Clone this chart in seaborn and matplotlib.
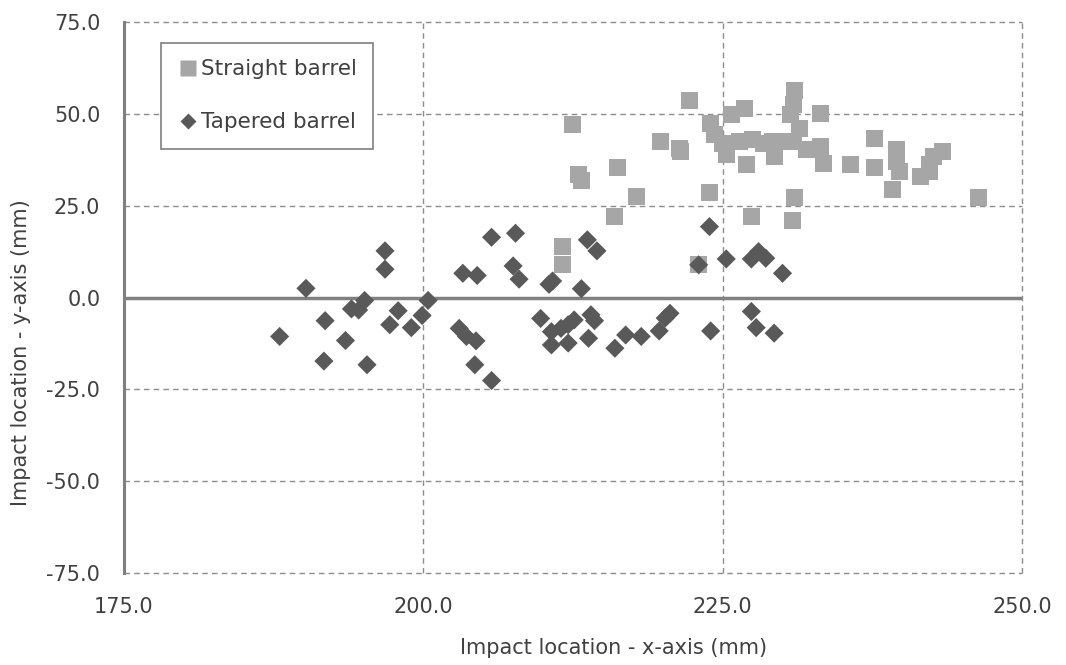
import matplotlib
matplotlib.use("Agg")
import matplotlib.pyplot as plt
import seaborn as sns
import pandas as pd
from matplotlib.lines import Line2D

# Straight barrel (light grey squares)
straight_x = [222.2, 212.5, 219.8, 221.4, 221.5, 216.2, 213.0, 213.2, 217.8, 223.9,
              216.0, 211.6, 211.6, 225.7, 226.8, 225.3, 227.0, 224.0, 224.3, 225.0,
              226.4, 227.5, 229.2, 229.3, 231.0, 230.9, 230.7, 231.4, 233.2, 228.4,
              229.5, 230.9, 232.0, 233.2, 233.4, 235.7, 237.7, 237.7, 239.5, 239.5,
              239.8, 239.2, 241.5, 242.3, 242.6, 243.4, 242.3, 246.4, 231.0, 230.8,
              223.0, 227.4]
straight_y = [53.6, 47.0, 42.5, 40.7, 39.8, 35.5, 33.4, 31.8, 27.5, 28.6,
              22.1, 13.9, 9.0, 49.8, 51.4, 38.9, 36.2, 47.5, 44.3, 42.0,
              42.5, 43.0, 42.5, 38.4, 56.3, 52.5, 49.8, 46.1, 50.2, 42.0,
              42.5, 42.5, 40.2, 41.1, 36.6, 36.2, 43.2, 35.5, 40.2, 37.1,
              34.3, 29.3, 33.0, 36.2, 38.4, 39.8, 34.3, 27.1, 27.1, 21.0,
              8.9, 22.1]

# Tapered barrel (dark grey diamonds)
tapered_x = [188.0, 190.2, 191.8, 191.7, 193.5, 195.3, 194.0, 194.6, 195.1, 196.8,
             196.8, 197.2, 197.9, 199.0, 199.9, 200.4, 203.3, 204.5, 205.7, 207.7,
             207.5, 208.0, 203.0, 203.6, 204.4, 204.3, 205.7, 209.8, 210.5, 210.8,
             210.7, 210.7, 213.2, 213.7, 214.5, 211.5, 212.1, 212.6, 212.1, 214.0,
             214.3, 213.8, 216.0, 216.9, 218.2, 219.7, 220.2, 220.6, 223.0, 223.9,
             224.0, 225.3, 227.4, 228.0, 228.6, 230.0, 227.4, 227.8, 229.3]
tapered_y = [-10.6, 2.5, -6.3, -17.3, -11.7, -18.3, -3.1, -3.4, -0.8, 12.7,
             7.7, -7.4, -3.6, -8.2, -4.9, -0.8, 6.6, 6.0, 16.4, 17.5,
             8.6, 5.0, -8.4, -10.6, -11.8, -18.3, -22.6, -5.7, 3.6, 4.5,
             -9.3, -12.9, 2.4, 15.7, 12.7, -8.4, -7.4, -6.1, -12.4, -4.7,
             -6.3, -11.1, -13.8, -10.2, -10.6, -9.1, -5.6, -4.3, 8.9, 19.3,
             -9.1, 10.5, 10.5, 12.5, 10.7, 6.6, -3.8, -8.2, -9.7]

series_names = ["Straight barrel", "Tapered barrel"]
x_ticks = [175.0, 200.0, 225.0, 250.0]
y_ticks = [-75.0, -50.0, -25.0, 0.0, 25.0, 50.0, 75.0]

df = pd.DataFrame({
    "x": straight_x + tapered_x,
    "y": straight_y + tapered_y,
    "series": [series_names[0]] * len(straight_x) + [series_names[1]] * len(tapered_x),
})

sns.set_style("white")
plt.rcParams["font.family"] = ["DejaVu Sans"]

fig = plt.figure(figsize=(10.66, 6.65), dpi=100)
ax = fig.add_axes([0.1163, 0.1383, 0.8424, 0.8286])

grid_kw = dict(color="#8c8c8c", lw=1.0, linestyle=(0, (4, 3)), zorder=0, clip_on=False)
for xv in x_ticks[1:]:
    ax.axvline(xv, **grid_kw)
for yv in y_ticks:
    if yv != 0:
        ax.axhline(yv, **grid_kw)
ax.axhline(0, color="#808080", lw=2.5, zorder=1)

sns.scatterplot(data=df, x="x", y="y", hue="series", style="series",
                palette={series_names[0]: "#a6a6a6", series_names[1]: "#595959"},
                markers={series_names[0]: "s", series_names[1]: "D"},
                size="series", sizes={series_names[0]: 150, series_names[1]: 95},
                linewidth=0, edgecolor="none", ax=ax, zorder=3, legend=False)

ax.set_xlim(175, 250)
ax.set_ylim(-75, 75)
ax.set_xticks(x_ticks)
ax.set_yticks(y_ticks)
ax.set_xticklabels([f"{v:.1f}" for v in x_ticks], fontsize=15, color="#404040")
ax.set_yticklabels([f"{v:.1f}" for v in y_ticks], fontsize=15, color="#404040")
ax.tick_params(axis="x", pad=17, length=0)
ax.tick_params(axis="y", pad=17, length=0)

for s in ["top", "right", "bottom"]:
    ax.spines[s].set_visible(False)
ax.spines["left"].set_color("#808080")
ax.spines["left"].set_linewidth(2.2)

ax.set_xlabel("Impact location - x-axis (mm)", fontsize=15, color="#404040")
ax.set_ylabel("Impact location - y-axis (mm)", fontsize=15, color="#404040")
ax.xaxis.set_label_coords(0.545, -0.118)
ax.yaxis.set_label_coords(-0.104, 0.40)

handles = [
    Line2D([], [], marker="s", color="none", markerfacecolor="#a6a6a6",
           markeredgecolor="none", markersize=11),
    Line2D([], [], marker="D", color="none", markerfacecolor="#595959",
           markeredgecolor="none", markersize=8.5),
]
leg = ax.legend(handles, series_names, loc="upper left", bbox_to_anchor=(0.041, 0.962),
                borderaxespad=0, fontsize=15.5, labelspacing=1.55, handletextpad=0.1,
                handlelength=1.0, borderpad=0.75, frameon=True, fancybox=False,
                framealpha=1, edgecolor="#7f7f7f")
leg.get_frame().set_linewidth(1.2)
for t in leg.get_texts():
    t.set_color("#404040")

fig.savefig("out.png", dpi=100)
